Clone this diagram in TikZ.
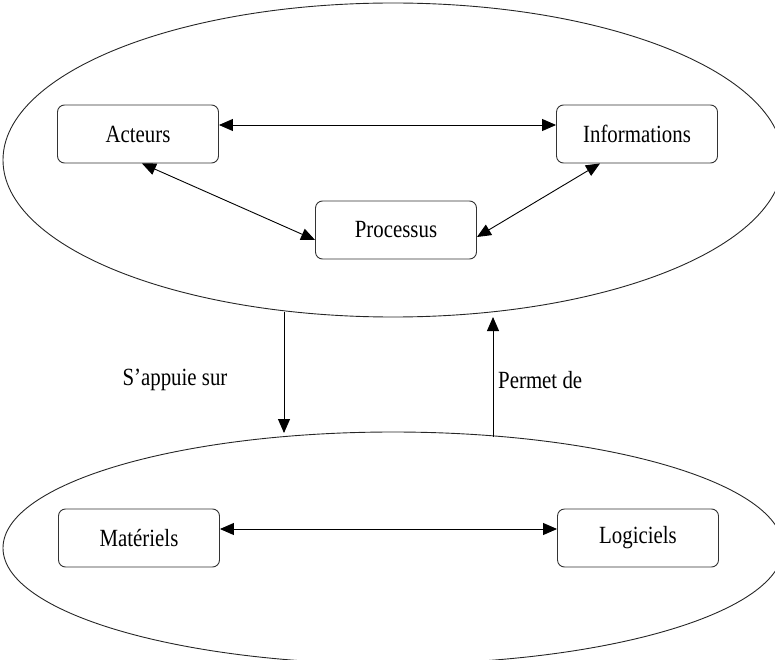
\documentclass[tikz,border=0pt]{standalone}
\usepackage{fontspec}
\setmainfont{Liberation Serif}
\usetikzlibrary{arrows.meta}
% labels are set slightly tall and narrow
\newcommand{\tall}[1]{\scalebox{0.97}[1.15]{#1}}
\begin{document}
\begin{tikzpicture}[x=1pt,y=-1pt,
  box/.style={draw=black!80, line width=0.9pt, rounded corners=7pt,
    minimum width=161pt, minimum height=58pt, inner sep=0pt,
    font=\fontsize{21.5}{25}\selectfont},
  link/.style={line width=0.9pt, {Triangle[length=14pt,width=12pt]}-{Triangle[length=14pt,width=12pt]}},
  oneway/.style={line width=0.9pt, -{Triangle[length=14pt,width=12pt]}},
  zone/.style={draw=black!85, line width=0.9pt},
  lbl/.style={font=\fontsize{21.5}{25}\selectfont, inner sep=0pt}]
\useasboundingbox (0,0) rectangle (775,660);
\clip (0,0) rectangle (775,660);

% the two domains
\draw[zone] (393,160) ellipse [x radius=390, y radius=157];
\draw[zone] (393,548) ellipse [x radius=390, y radius=116];

% upper domain
\node[box] (act)  at (138,134) {\tall{Acteurs}};
\node[box] (inf)  at (637,134) {\tall{Informations}};
\node[box] (proc) at (396,230) {\tall{Processus}};

% lower domain
\node[box] (mat) at (139,538) {\tall{Matériels}};
\node[box] (log) at (638,538) {\tall{Logiciels}};

% links inside the domains
\draw[link] ([yshift=9pt]act.east) -- ([yshift=9pt]inf.west);
\draw[link] ([xshift=4pt]act.south) -- ([yshift=-10pt]proc.west);
\draw[link] ([yshift=-7pt]proc.east) -- ([xshift=-37pt]inf.south);
\draw[link] ([yshift=9pt]mat.east) -- ([yshift=9pt]log.west);

% links between the domains
\coordinate (s1) at (284,312);
\coordinate (s2) at (284,433);
\coordinate (p1) at (493,437);
\coordinate (p2) at (493,317);
\draw[oneway] (s1) -- (s2);
\draw[oneway] (p1) -- (p2);

\node[lbl] (appui) at (175,380) {\tall{S’appuie sur}};
\node[lbl, anchor=west] (permet) at (498,380) {\tall{Permet de}};
\end{tikzpicture}
\end{document}
